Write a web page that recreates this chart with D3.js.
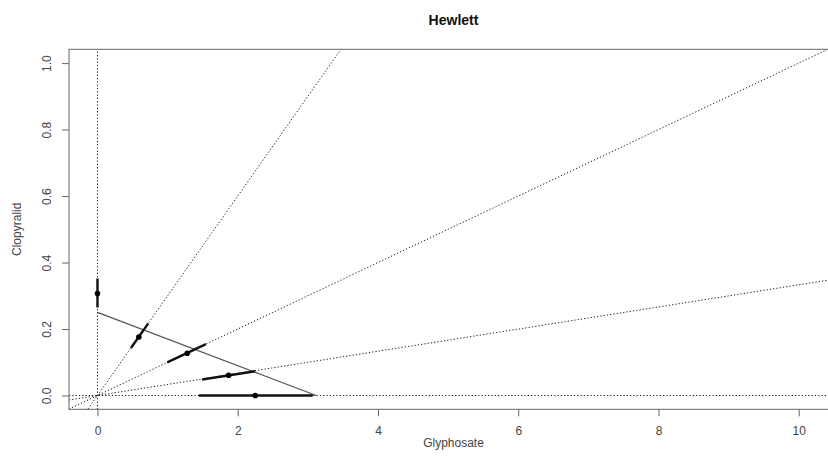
<!DOCTYPE html>
<html>
<head>
<meta charset="utf-8">
<script src="https://cdn.jsdelivr.net/npm/d3@7"></script>
<style>
  body { margin: 0; background: #fff; }
  svg { display: block; font-family: "Liberation Sans", Arial, sans-serif; }
</style>
</head>
<body>
<svg id="chart" width="828" height="468"></svg>
<script>
// isobologram values
const title = 'Hewlett';
const xLabel = 'Glyphosate';
const yLabel = 'Clopyralid';
const xTicks = [0, 2, 4, 6, 8, 10];
const yTicks = [0, 0.2, 0.4, 0.6, 0.8, 1.0];

// mixture rays through the origin (slopes), plus the two axes lines
const raySlopes = [0.3, 0.1, 0.0333];

// estimated points
const pointX = [0, 0.59, 1.28, 1.87, 2.25];
const pointY = [0.307, 0.176, 0.127, 0.061, 0];

// error bars along each ray
const barLoX = [0, 0.477, 0.995, 1.493, 1.446];
const barLoY = [0.265, 0.143, 0.0995, 0.048, 0];
const barHiX = [0, 0.724, 1.546, 2.248, 3.07];
const barHiY = [0.352, 0.217, 0.1546, 0.073, 0];

// additive isobole
const isoX = [0, 3.12];
const isoY = [0.25, 0];

const svg = d3.select('#chart');
const xDomain = [-0.406, 10.56];
const yDomain = [-0.0415, 1.0415];
const x = d3.scaleLinear().domain(xDomain).range([69, 838]);
const y = d3.scaleLinear().domain(yDomain).range([409.3, 49.3]);

svg.append('defs').append('clipPath').attr('id', 'plotClip')
  .append('rect')
  .attr('x', x(xDomain[0])).attr('y', y(yDomain[1]))
  .attr('width', x(xDomain[1]) - x(xDomain[0]))
  .attr('height', y(yDomain[0]) - y(yDomain[1]));

const plot = svg.append('g').attr('clip-path', 'url(#plotClip)');

const dotted = sel => sel
  .attr('stroke', '#222')
  .attr('stroke-width', 1)
  .attr('stroke-dasharray', '1.3,2')
  .attr('fill', 'none');

// rays
plot.selectAll('.ray')
  .data(raySlopes)
  .enter().append('line')
  .attr('class', 'ray')
  .attr('x1', x(xDomain[0])).attr('y1', d => y(d * xDomain[0]))
  .attr('x2', x(xDomain[1])).attr('y2', d => y(d * xDomain[1]))
  .call(dotted);

// horizontal and vertical reference lines
plot.append('line')
  .attr('x1', x(xDomain[0])).attr('x2', x(xDomain[1]))
  .attr('y1', y(0)).attr('y2', y(0))
  .call(dotted);
plot.append('line')
  .attr('x1', x(0)).attr('x2', x(0))
  .attr('y1', y(yDomain[0])).attr('y2', y(yDomain[1]))
  .call(dotted);

// isobole
plot.append('line')
  .attr('x1', x(isoX[0])).attr('y1', y(isoY[0]))
  .attr('x2', x(isoX[1])).attr('y2', y(isoY[1]))
  .attr('stroke', '#555')
  .attr('stroke-width', 1.2);

// error bars
plot.selectAll('.bar')
  .data(pointX)
  .enter().append('line')
  .attr('class', 'bar')
  .attr('x1', (d, i) => x(barLoX[i])).attr('y1', (d, i) => y(barLoY[i]))
  .attr('x2', (d, i) => x(barHiX[i])).attr('y2', (d, i) => y(barHiY[i]))
  .attr('stroke', '#111')
  .attr('stroke-width', 2.4);

// points
plot.selectAll('.pt')
  .data(pointX)
  .enter().append('circle')
  .attr('class', 'pt')
  .attr('cx', d => x(d))
  .attr('cy', (d, i) => y(pointY[i]))
  .attr('r', 2.8)
  .attr('fill', '#000');

// box
svg.append('rect')
  .attr('x', x(xDomain[0])).attr('y', y(yDomain[1]))
  .attr('width', x(xDomain[1]) - x(xDomain[0]))
  .attr('height', y(yDomain[0]) - y(yDomain[1]))
  .attr('fill', 'none')
  .attr('stroke', '#666')
  .attr('stroke-width', 1);

// axes
const xAxis = svg.append('g')
  .attr('transform', `translate(0,${y(yDomain[0])})`)
  .call(d3.axisBottom(x).tickValues(xTicks).tickSize(7).tickPadding(10).tickFormat(d3.format('d')));
const yAxis = svg.append('g')
  .attr('transform', `translate(${x(xDomain[0])},0)`)
  .call(d3.axisLeft(y).tickValues(yTicks).tickSize(7).tickPadding(0).tickFormat(d3.format('.1f')));

[xAxis, yAxis].forEach(a => {
  a.select('.domain').remove();
  a.selectAll('.tick line').attr('stroke', '#666');
  a.selectAll('.tick text')
    .attr('fill', '#444')
    .style('font-size', '12px')
    .style('font-family', '"Liberation Sans", Arial, sans-serif');
});

yAxis.selectAll('.tick text')
  .attr('x', null).attr('dy', null)
  .attr('text-anchor', 'middle')
  .attr('transform', 'translate(-22,0) rotate(-90)')
  .attr('dy', '0.35em');

// titles
svg.append('text')
  .attr('x', (x(xDomain[0]) + x(xDomain[1])) / 2)
  .attr('y', 25)
  .attr('text-anchor', 'middle')
  .attr('font-weight', 'bold')
  .attr('font-size', 14)
  .attr('fill', '#111')
  .text(title);

svg.append('text')
  .attr('x', (x(xDomain[0]) + x(xDomain[1])) / 2)
  .attr('y', 447)
  .attr('text-anchor', 'middle')
  .attr('font-size', 12)
  .attr('fill', '#444')
  .text(xLabel);

svg.append('text')
  .attr('transform', `translate(21,${(y(yDomain[0]) + y(yDomain[1])) / 2}) rotate(-90)`)
  .attr('text-anchor', 'middle')
  .attr('font-size', 12)
  .attr('fill', '#444')
  .text(yLabel);
</script>
</body>
</html>
